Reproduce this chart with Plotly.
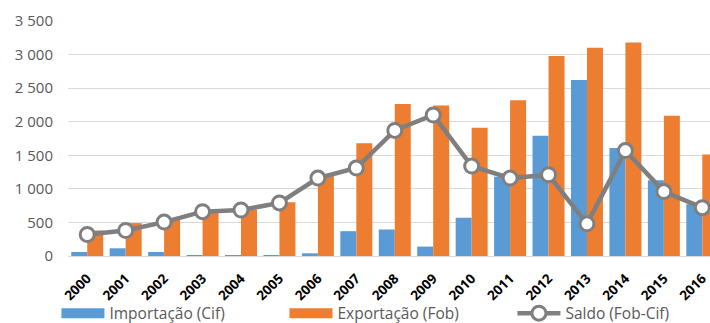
import plotly.graph_objects as go

# Annual trade values, 2000-2016
anos = [str(a) for a in range(2000, 2017)]
importacao = [60, 115, 60, 5, 5, 10, 40, 370, 395, 140, 570, 1180, 1790, 2620, 1610, 1130, 770]
exportacao = [380, 490, 565, 665, 690, 800, 1200, 1680, 2265, 2240, 1910, 2320, 2980, 3100, 3180, 2090, 1510]
saldo = [320, 380, 505, 660, 685, 790, 1160, 1310, 1870, 2100, 1340, 1160, 1210, 480, 1570, 960, 720]
y_ticks = [0, 500, 1000, 1500, 2000, 2500, 3000, 3500]

AZUL = "#5b9bd5"
LARANJA = "#ed7d31"
CINZA = "#7f7f7f"
TEXTO = "#595959"

fig = go.Figure()

fig.add_trace(go.Bar(x=anos, y=importacao, name="Importação (Cif)",
                     marker=dict(color=AZUL, line=dict(width=0)), showlegend=False))
fig.add_trace(go.Bar(x=anos, y=exportacao, name="Exportação (Fob)",
                     marker=dict(color=LARANJA, line=dict(width=0)), showlegend=False))
fig.add_trace(go.Scatter(x=anos, y=saldo, name="Saldo (Fob-Cif)", mode="lines+markers",
                         line=dict(color=CINZA, width=4.5),
                         marker=dict(size=14, color="white", line=dict(color=CINZA, width=3)),
                         showlegend=False))

# Legend entries: wide colour swatches for the bars, line+marker for the balance
fig.add_trace(go.Scatter(x=[None], y=[None], mode="lines", name="Importação (Cif)",
                         line=dict(color=AZUL, width=11)))
fig.add_trace(go.Scatter(x=[None], y=[None], mode="lines", name="Exportação (Fob)",
                         line=dict(color=LARANJA, width=11)))
fig.add_trace(go.Scatter(x=[None], y=[None], mode="lines+markers", name="Saldo (Fob-Cif)",
                         line=dict(color=CINZA, width=4.5),
                         marker=dict(size=14, color="white", line=dict(color=CINZA, width=3))))

fig.update_layout(
    width=710, height=323,
    margin=dict(l=68, r=0, t=21, b=67, autoexpand=False),
    paper_bgcolor="white", plot_bgcolor="white",
    barmode="group", bargap=0.168, bargroupgap=0,
    separators=", ",
    font=dict(family="Open Sans", color=TEXTO),
    showlegend=True,
    legend=dict(orientation="h", x=-0.018, xanchor="left", y=-0.245, yanchor="middle",
                font=dict(size=15.5, color=TEXTO), itemwidth=43,
                entrywidth=170, entrywidthmode="pixels",
                bgcolor="rgba(0,0,0,0)", tracegroupgap=0, traceorder="normal"),
    xaxis=dict(type="category", range=[-0.5, 16.2], showgrid=False, automargin=False,
               showline=False, ticks="", tickangle=-45, ticklabelstandoff=11,
               tickfont=dict(family="Open Sans", size=13.5, color="black", weight="bold")),
    yaxis=dict(range=[0, 3500], tickvals=y_ticks, tickformat=",d", automargin=False,
               showgrid=True, gridcolor="#d9d9d9", gridwidth=1,
               zeroline=True, zerolinecolor="#d9d9d9", zerolinewidth=1,
               showline=False, ticks="", ticklabelstandoff=14,
               tickfont=dict(size=15, color=TEXTO)),
)

fig.write_html("out.html")
